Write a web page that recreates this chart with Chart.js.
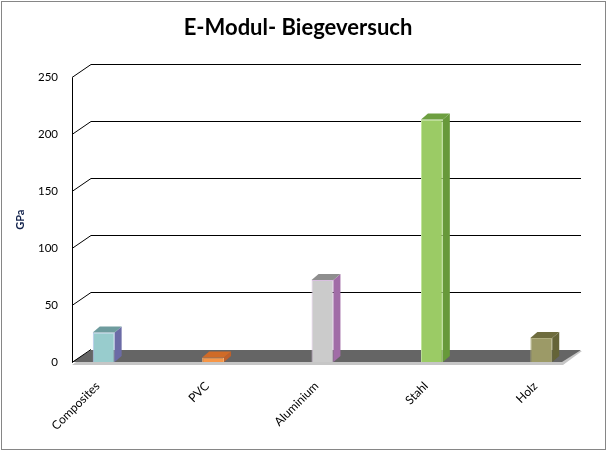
<!DOCTYPE html>
<html>
<head>
<meta charset="utf-8">
<script src="https://cdn.jsdelivr.net/npm/chart.js@4.4.1/dist/chart.umd.min.js"></script>
<style>
  html, body { margin: 0; padding: 0; background: #fff; }
  canvas { display: block; }
</style>
</head>
<body>
<canvas id="eModulChart" width="607" height="451"></canvas>
<script>
const categories = ['Composites', 'PVC', 'Aluminium', 'Stahl', 'Holz'];
const modulusGPa = [26, 4, 72, 213, 21];
const yTicks = [0, 50, 100, 150, 200, 250];

const frontColors = ['#98cccd', '#f79646', '#cbcbcb', '#9bcb65', '#9c9a67'];
const edgeColors = ['#b4c4ee', '#fbb070', '#d9c0e0', '#c0e49a', '#b0ae80'];
const sideColors = ['#6b6ba6', '#c0602a', '#a16ca7', '#67993a', '#656438'];
const topColors = ['#6e9c9e', '#d06b27', '#8e8e8e', '#6d9f40', '#6e6c3e'];

// depth of the back wall and of the bars
const WALL_DX = 19, WALL_DY = 13;
const BAR_DX = 7, BAR_DY = 6;

function poly(ctx, pts, fill) {
    ctx.beginPath();
    ctx.moveTo(pts[0][0], pts[0][1]);
    for (let i = 1; i < pts.length; i++) ctx.lineTo(pts[i][0], pts[i][1]);
    ctx.closePath();
    ctx.fillStyle = fill;
    ctx.fill();
}

const excel3d = {
    id: 'excel3d',
    beforeDatasetsDraw(chart) {
        const { ctx, chartArea, scales } = chart;
        const y = scales.y;
        const ax = chartArea.left + 23;
        const fr = chartArea.right - 34;
        const y0 = y.getPixelForValue(0);
        ctx.save();
        // floor (light edge, then dark top)
        poly(ctx, [[ax, y0 + 3], [fr + 1, y0 + 3], [fr + WALL_DX + 1, y0 - WALL_DY + 2], [ax + WALL_DX, y0 - WALL_DY + 2]], '#c6c6c6');
        poly(ctx, [[ax, y0], [fr, y0], [fr + WALL_DX, y0 - WALL_DY + 1], [ax + WALL_DX, y0 - WALL_DY + 1]], '#656565');
        // gridlines on the back wall
        ctx.strokeStyle = '#000';
        ctx.lineWidth = 1;
        yTicks.forEach(v => {
            const yp = Math.round(y.getPixelForValue(v)) + 0.5;
            ctx.beginPath();
            ctx.moveTo(ax, yp);
            ctx.lineTo(ax + WALL_DX, yp - WALL_DY);
            if (v !== 0) ctx.lineTo(fr + WALL_DX, yp - WALL_DY);
            ctx.stroke();
        });
        // front axis
        ctx.beginPath();
        ctx.moveTo(ax + 0.5, Math.round(y0) + 0.5);
        ctx.lineTo(ax + 0.5, Math.round(y.getPixelForValue(yTicks[yTicks.length - 1])) + 0.5);
        ctx.stroke();
        ctx.restore();
    },
    afterDatasetsDraw(chart) {
        const { ctx } = chart;
        const meta = chart.getDatasetMeta(0);
        ctx.save();
        meta.data.forEach((bar, i) => {
            const p = bar.getProps(['x', 'y', 'base', 'width'], true);
            const l = p.x - p.width / 2, r = p.x + p.width / 2;
            poly(ctx, [[r, p.y], [r + BAR_DX, p.y - BAR_DY], [r + BAR_DX, p.base - BAR_DY], [r, p.base]], sideColors[i]);
            poly(ctx, [[l, p.y], [l + BAR_DX, p.y - BAR_DY], [r + BAR_DX, p.y - BAR_DY], [r, p.y]], topColors[i]);
        });
        ctx.restore();
    },
    afterDraw(chart) {
        const { ctx } = chart;
        ctx.save();
        ctx.strokeStyle = '#868686';
        ctx.lineWidth = 1;
        ctx.strokeRect(1.5, 1.5, 604, 448);
        ctx.restore();
    }
};

Chart.defaults.font.family = 'Lato';
Chart.defaults.color = '#000';

const ctx = document.getElementById('eModulChart').getContext('2d');
const eModulChart = new Chart(ctx, {
    type: 'bar',
    data: {
        labels: categories,
        datasets: [{
            label: 'E-Modul',
            data: modulusGPa,
            backgroundColor: frontColors,
            borderColor: edgeColors,
            borderWidth: 1,
            barPercentage: 1,
            categoryPercentage: 0.2
        }]
    },
    options: {
        responsive: false,
        animation: false,
        layout: { padding: { left: 0, right: 11, top: 0, bottom: 0 } },
        scales: {
            x: {
                grid: { display: false, drawTicks: false },
                border: { display: false },
                ticks: {
                    font: { size: 12 },
                    minRotation: 45,
                    maxRotation: 45,
                    padding: 17,
                    labelOffset: -6
                },
                afterFit(scale) { scale.height = 89; }
            },
            y: {
                min: 0,
                max: 250,
                grid: { display: false, drawTicks: false },
                border: { display: false },
                ticks: { font: { size: 11.5 }, mirror: true, crossAlign: 'far', padding: -11 },
                afterBuildTicks(scale) { scale.ticks = yTicks.map(v => ({ value: v })); },
                title: {
                    display: true,
                    text: 'GPa',
                    color: '#10204a',
                    font: { size: 11, weight: 'bold' },
                    padding: { top: 14, bottom: 0 }
                },
                afterFit(scale) { scale.width = 49; }
            }
        },
        plugins: {
            legend: { display: false },
            tooltip: { enabled: false },
            title: {
                display: true,
                text: 'E-Modul- Biegeversuch',
                color: '#000',
                font: { size: 22, weight: 'bold' },
                padding: { top: 15, bottom: 36 }
            }
        }
    },
    plugins: [excel3d]
});
</script>
</body>
</html>
